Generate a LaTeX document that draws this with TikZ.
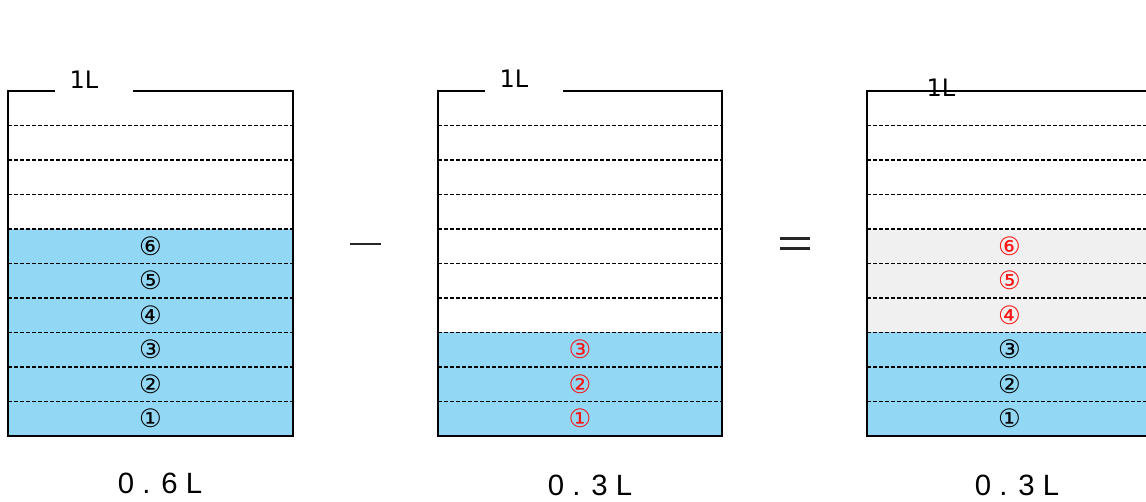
\documentclass[tikz,border=0pt]{standalone}
\usepackage{fontspec}
\setmainfont{Liberation Sans}
\newfontfamily\lqcircfont{DejaVu Sans}
\usetikzlibrary{positioning}
\definecolor{lqblue}{RGB}{146,216,245}
\definecolor{lqgray}{RGB}{240,240,240}
\definecolor{lqred}{RGB}{250,20,20}
\tikzset{
  lqwall/.style={draw=black, line width=1.1pt},
  lqdash/.style={draw=black, line width=0.8pt, dash pattern=on 3pt off 1.5pt},
  lqnum/.style={font=\lqcircfont\fontsize{19}{19}\selectfont, inner sep=0pt},
  lqcap/.style={font=\lqcircfont\fontsize{18}{18}\selectfont, inner sep=0pt},
  lqvol/.style={font=\fontsize{22}{22}\selectfont, inner sep=0pt},
  lqop/.style={draw=black!85, line width=1.6pt}
}

\begin{document}
\begin{tikzpicture}[x=0.75pt, y=-0.75pt]
  \clip (0,0) rectangle (1146,502);
  % fills
  \fill[lqblue] (8,229) rectangle (293,436);
  \fill[lqblue] (438,332.5) rectangle (722,436);
  \fill[lqgray] (867,229) rectangle (1152,332.5);
  \fill[lqblue] (867,332.5) rectangle (1152,436);
  % level lines
  \foreach \x/\w in {8/285,438/284,867/285} {
    \foreach \k in {1,...,9}
      \draw[lqdash] (\x,436-\k*34.5) -- ++(\w,0);
  }
  % walls
  \draw[lqwall] (55,91) -| (8,436) -| (293,91) -- (133,91);
  \draw[lqwall] (485,91) -| (438,436) -| (722,91) -- (563,91);
  \draw[lqwall] (1152,91) -- (867,91) |- (1152,436);
  % capacity labels
  \node[lqcap] (capA) at (84,79.5) {1L};
  \node[lqcap] (capB) at (514,79) {1L};
  \node[lqcap] (capC) at (941,88) {1L};
  % layer numbers
  \foreach \k/\d in {1/①,2/②,3/③,4/④,5/⑤,6/⑥}
    \node[lqnum] (numA\k) at (150.5,453.25-\k*34.5) {\d};
  \foreach \k/\d in {1/①,2/②,3/③}
    \node[lqnum, text=lqred] (numB\k) at (580,453.25-\k*34.5) {\d};
  \foreach \k/\d in {1/①,2/②,3/③}
    \node[lqnum] (numC\k) at (1009.5,453.25-\k*34.5) {\d};
  \foreach \k/\d in {4/④,5/⑤,6/⑥}
    \node[lqnum, text=lqred] (numC\k) at (1009.5,453.25-\k*34.5) {\d};
  % volumes
  \node[lqvol] (volA) at (160,483) {0 . 6 L};
  \node[lqvol] (volB) at (590,485) {0 . 3 L};
  \node[lqvol] (volC) at (1017,485) {0 . 3 L};
  % operators
  \draw[lqop] (350,244) -- (381,244);
  \draw[lqop] (780,238.5) -- (810,238.5);
  \draw[lqop] (780,248.5) -- (810,248.5);
\end{tikzpicture}
\end{document}
